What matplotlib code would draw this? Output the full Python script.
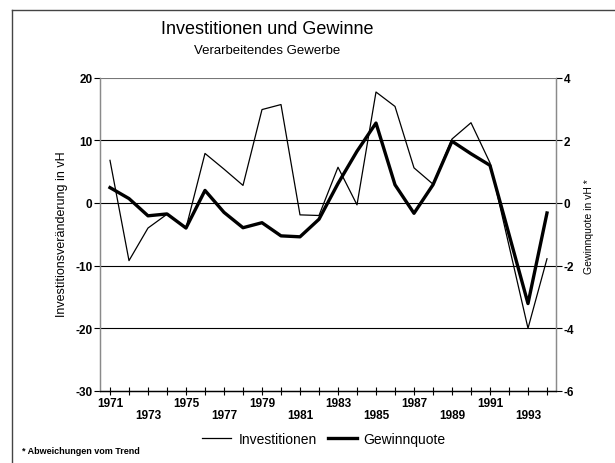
import matplotlib
matplotlib.use('Agg')
import matplotlib.pyplot as plt
from matplotlib import font_manager as fm
from matplotlib.lines import Line2D

names = {f.name for f in fm.fontManager.ttflist}
HAS_NARROW = 'Liberation Sans Narrow' in names
NARROW = 'Liberation Sans Narrow' if HAS_NARROW else 'Liberation Sans'
TICK_SIZE = 10 if HAS_NARROW else 8.5
plt.rcParams['font.family'] = ['Liberation Sans', 'DejaVu Sans']

# ---- data ----
years = list(range(1971, 1995))
investitionen = [6.8, -9.2, -4.0, -1.8, -4.0, 7.9, 5.4, 2.8, 14.9, 15.7, -1.9, -2.0,
                 5.7, -0.3, 17.7, 15.4, 5.6, 3.0, 10.2, 12.8, 6.4, -6.8, -20.0, -8.9]
gewinnquote = [0.49, 0.14, -0.41, -0.35, -0.80, 0.40, -0.30, -0.79, -0.63, -1.05, -1.08, -0.52,
               0.62, 1.65, 2.55, 0.58, -0.33, 0.58, 1.97, 1.57, 1.20, -1.00, -3.21, -0.32]
left_ticks = [-30, -20, -10, 0, 10, 20]
right_ticks = [-6, -4, -2, 0, 2, 4]
row1_years = [1971, 1975, 1979, 1983, 1987, 1991]
row2_years = [1973, 1977, 1981, 1985, 1989, 1993]

title = 'Investitionen und Gewinne'
subtitle = 'Verarbeitendes Gewerbe'
ylabel_left = 'Investitionsveränderung in vH'
ylabel_right = 'Gewinnquote in vH *'
footnote = '* Abweichungen vom Trend'
legend_labels = ['Investitionen', 'Gewinnquote']

W, H = 615, 464
fig = plt.figure(figsize=(W / 100, H / 100), dpi=100)
ax = fig.add_axes([100 / W, 72 / H, 456 / W, 313.4 / H])
ax2 = ax.twinx()

ax.set_xlim(1970.474, 1994.474)
ax.set_ylim(-30, 20)
ax2.set_ylim(-6, 4)

# grid lines
for yv in left_ticks[1:-1]:
    ax.axhline(yv, color='black', lw=0.8, zorder=1)
ax.axhline(20, color='#777777', lw=0.8, zorder=1)

l1, = ax.plot(years, investitionen, color='black', lw=0.9, zorder=3)
l2, = ax2.plot(years, gewinnquote, color='black', lw=2.4, zorder=3)

for a in (ax, ax2):
    a.spines['top'].set_visible(False)
    a.spines['left'].set_color('#8a8a8a')
    a.spines['right'].set_color('#8a8a8a')
    a.spines['bottom'].set_color('black')
    for s in a.spines.values():
        s.set_linewidth(0.9)

ax.set_xticks(years)
xl = []
for y in years:
    if y in row1_years:
        xl.append(str(y))
    elif y in row2_years:
        xl.append('\n' + str(y))
    else:
        xl.append('')
ax.set_xticklabels(xl)
ax.tick_params(axis='x', direction='inout', length=6, width=0.8, pad=1.5)
for t in ax.get_xticklabels():
    t.set_fontfamily(NARROW)
    t.set_fontweight('bold')
    t.set_fontsize(TICK_SIZE)
    t.set_linespacing(1.0)

ax.set_yticks(left_ticks)
ax.set_yticklabels([str(v) for v in left_ticks])
ax.tick_params(axis='y', direction='out', length=4.5, width=0.8, pad=1)
ax2.set_yticks(right_ticks)
ax2.set_yticklabels([str(v) for v in right_ticks])
ax2.tick_params(axis='y', direction='out', length=4.5, width=0.8, pad=1)
for t in ax.get_yticklabels() + ax2.get_yticklabels():
    t.set_fontfamily(NARROW)
    t.set_fontweight('bold')
    t.set_fontsize(TICK_SIZE)

fig.text(267 / W, 1 - 29.5 / H, title, ha='center', va='center', fontsize=13)
fig.text(267.5 / W, 1 - 51 / H, subtitle, ha='center', va='center', fontsize=9.5)
fig.text(62 / W, 1 - 234 / H, ylabel_left, rotation=90, ha='center', va='center', fontsize=9)
fig.text(588.5 / W, 1 - 227 / H, ylabel_right, rotation=90, ha='center', va='center', fontsize=7.5)
fig.text(22 / W, 1 - 452 / H, footnote, ha='left', va='center', fontsize=6.5, fontweight='bold')

leg = fig.legend([l1, l2], legend_labels, loc='center', bbox_to_anchor=(324 / W, 1 - 440 / H),
                 ncol=2, frameon=False, fontsize=10, handlelength=2.1, handletextpad=0.5,
                 columnspacing=0.8, borderpad=0, borderaxespad=0)

# page border
fig.add_artist(Line2D([12 / W, 1], [1 - 11 / H, 1 - 11 / H], transform=fig.transFigure,
                      color='#444444', lw=1))
fig.add_artist(Line2D([12 / W, 12 / W], [0, 1 - 11 / H], transform=fig.transFigure,
                      color='#444444', lw=1))

fig.savefig('out.png', dpi=100)
